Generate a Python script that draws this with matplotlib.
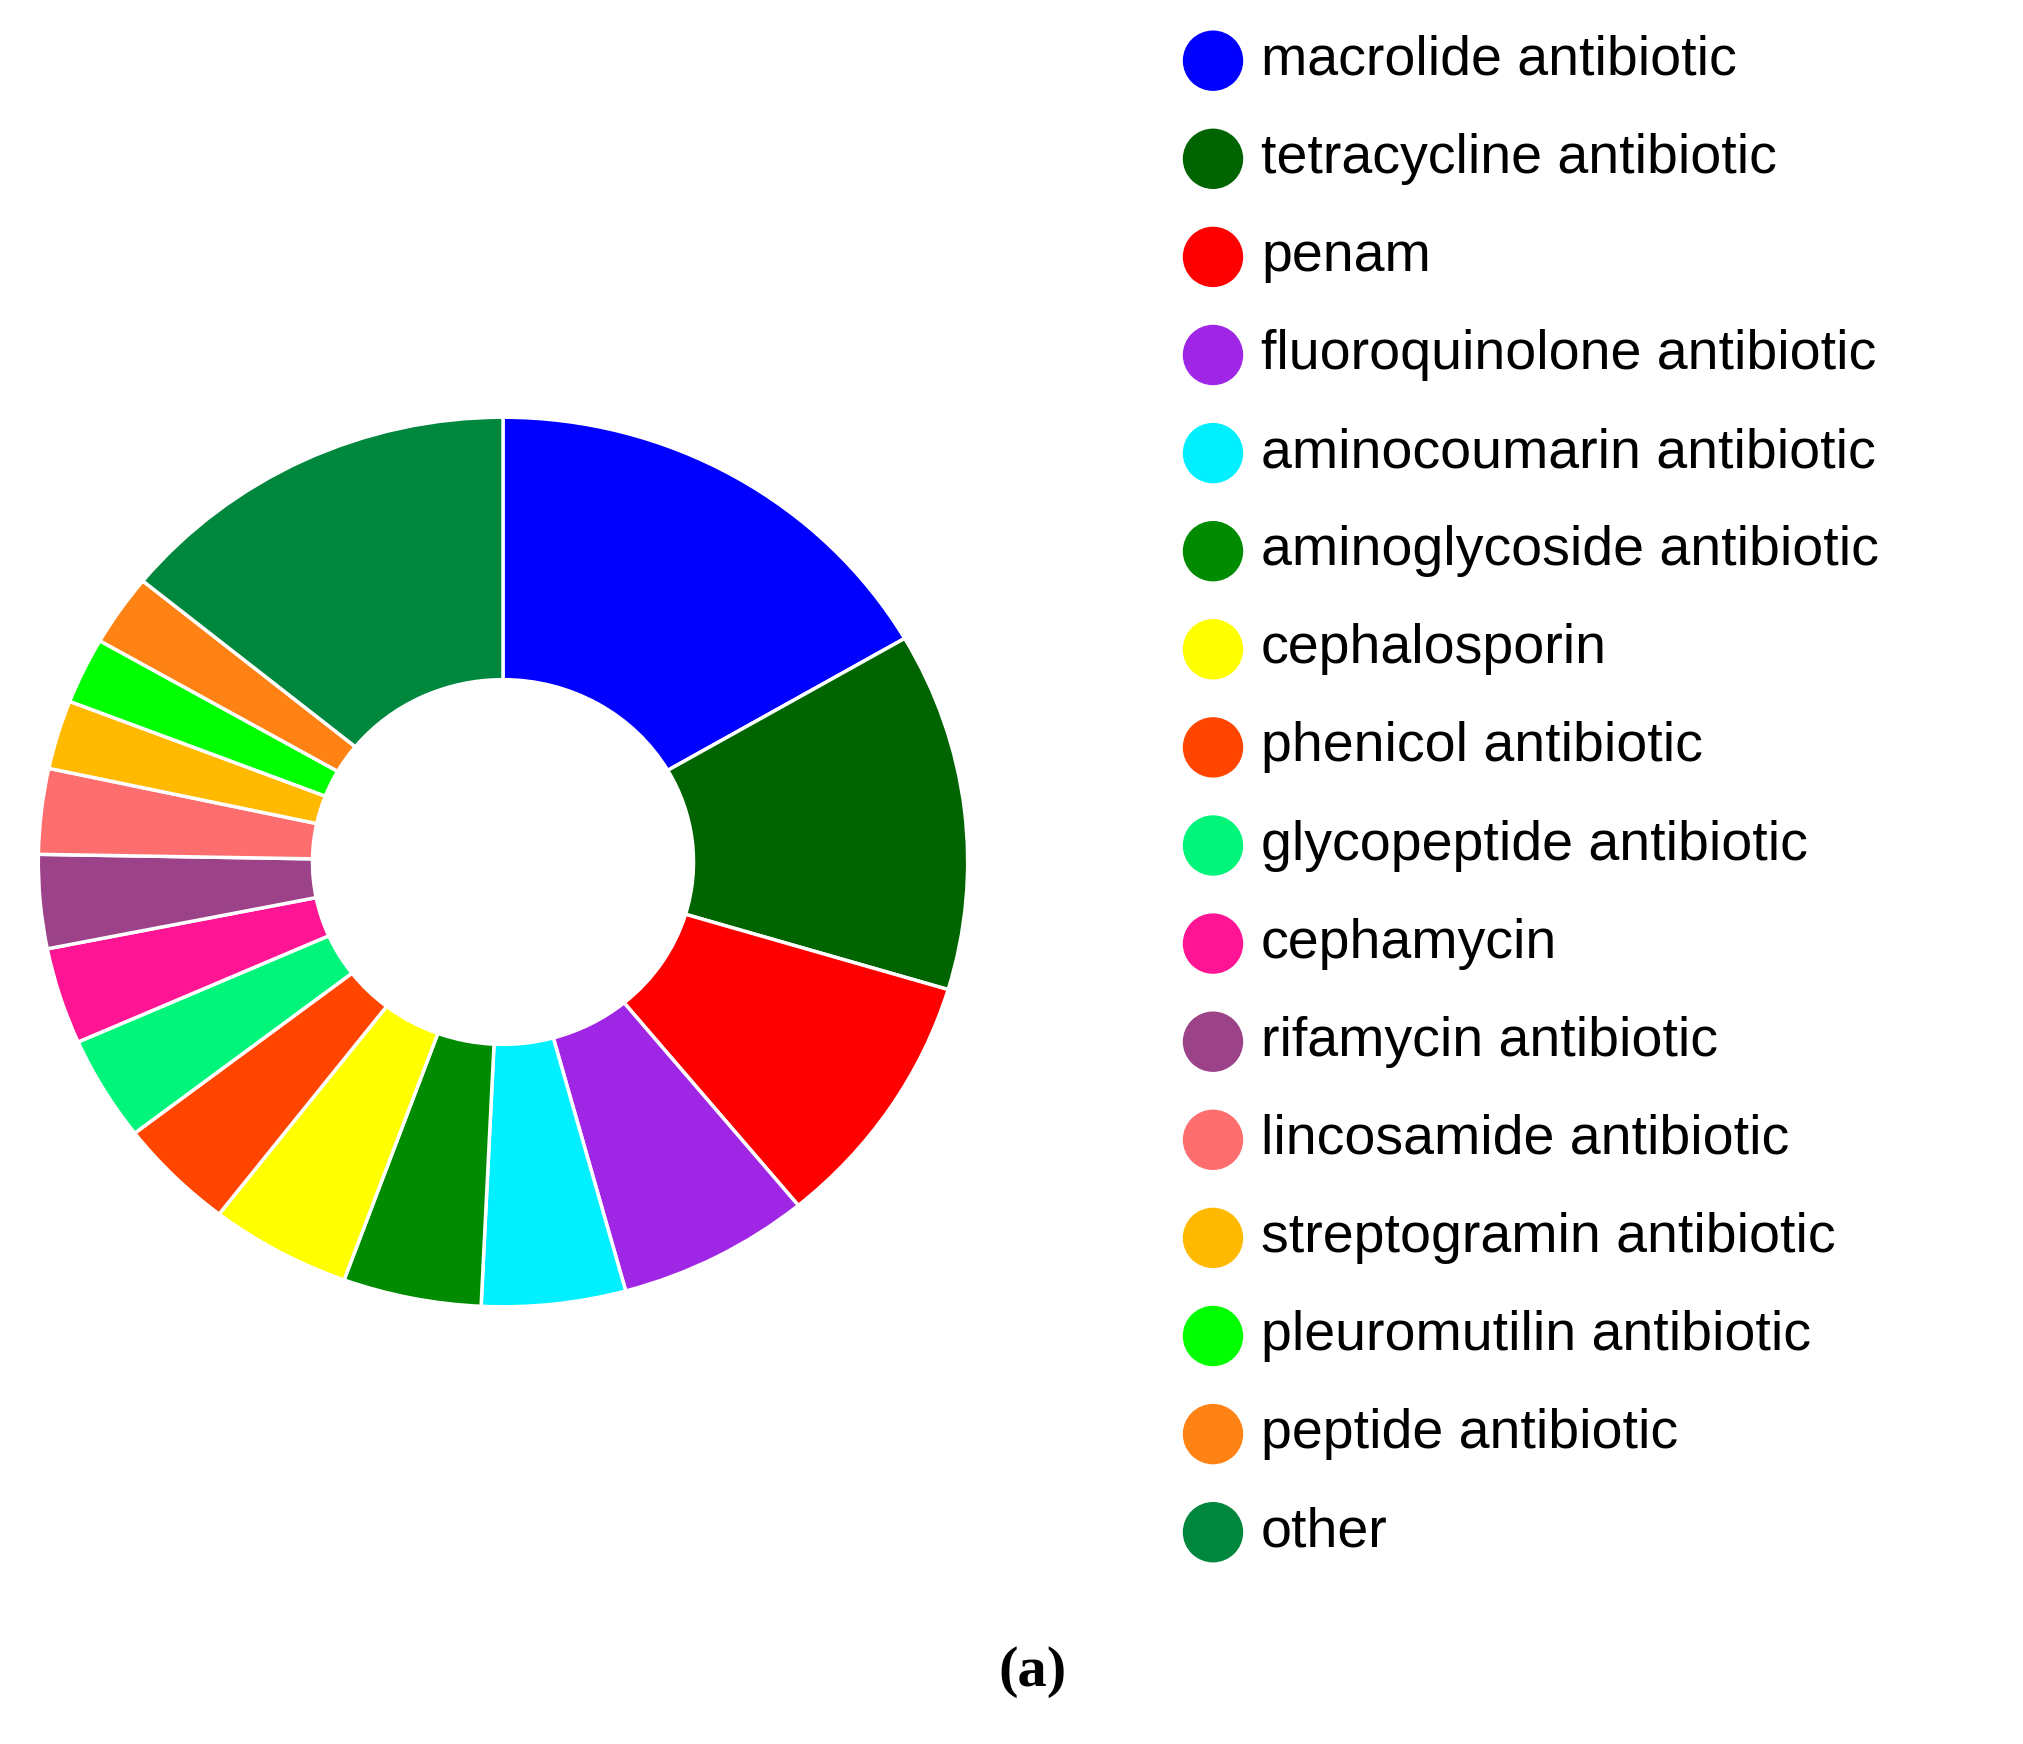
import matplotlib
matplotlib.use("Agg")
import matplotlib.pyplot as plt
from matplotlib.patches import Ellipse

categories = ["macrolide antibiotic", "tetracycline antibiotic", "penam",
              "fluoroquinolone antibiotic", "aminocoumarin antibiotic",
              "aminoglycoside antibiotic", "cephalosporin", "phenicol antibiotic",
              "glycopeptide antibiotic", "cephamycin", "rifamycin antibiotic",
              "lincosamide antibiotic", "streptogramin antibiotic",
              "pleuromutilin antibiotic", "peptide antibiotic", "other"]
values = [16.6, 13.0, 9.4, 6.7, 5.0, 4.8, 4.9, 4.1, 3.8, 3.5, 3.4, 3.1, 2.5, 2.4, 2.6, 14.1]
colors = ["#0000FF", "#006400", "#FF0000", "#A026E6", "#00F0FF", "#008B00",
          "#FFFF00", "#FF4500", "#00F57A", "#FF1493", "#9B4288", "#FF6E6E",
          "#FFBA00", "#00FF00", "#FF8214", "#00873E"]

W, H = 2024, 1744
fig = plt.figure(figsize=(W/100, H/100), dpi=100)
cx, cy, rx, ry = 503, 882, 467, 447
ax = fig.add_axes([(cx-rx)/W, (cy-ry)/H, 2*rx/W, 2*ry/H])
ax.pie(values, colors=colors, startangle=90, counterclock=False, radius=1,
       wedgeprops=dict(width=0.59, edgecolor="white", linewidth=2.5))
ax.set_aspect("auto")
ax.set_xlim(-1.005, 1.005)
ax.set_ylim(-1.005, 1.005)
ax.axis("off")

y0, dy = 60.7, 98.1
for i, (lab, c) in enumerate(zip(categories, colors)):
    y = y0 + i*dy
    fig.add_artist(Ellipse((1213/W, 1-y/H), 59/W, 59/H, color=c,
                           transform=fig.transFigure))
    fig.text(1261/W, 1-y/H, lab, fontsize=40, family="Liberation Sans",
             va="center", ha="left")

fig.text(1033/W, 1-1672/H, "(a)", fontsize=42, family="Liberation Serif",
         weight="bold", ha="center", va="center")
fig.savefig("out.png", dpi=100, facecolor="white")
